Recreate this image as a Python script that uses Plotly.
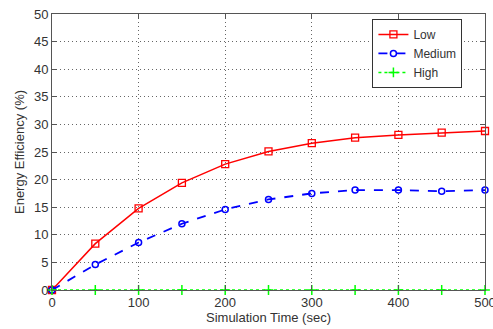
import plotly.graph_objects as go

time_sec = [0, 50, 100, 150, 200, 250, 300, 350, 400, 450, 500]
low = [0, 8.4, 14.8, 19.4, 22.8, 25.1, 26.6, 27.6, 28.1, 28.5, 28.8]
medium = [0, 4.6, 8.6, 12.0, 14.6, 16.4, 17.5, 18.1, 18.1, 17.9, 18.1]
high = [0, 0, 0, 0, 0, 0, 0, 0, 0, 0, 0]

x_ticks = [0, 100, 200, 300, 400, 500]
y_ticks = [0, 5, 10, 15, 20, 25, 30, 35, 40, 45, 50]

FONT = "Liberation Sans, Arial"

fig = go.Figure()
fig.add_trace(go.Scatter(x=time_sec, y=low, name="Low", mode="lines+markers", cliponaxis=False,
                         line=dict(color="#ff0000", width=1.5),
                         marker=dict(symbol="square-open", size=7, color="#ff0000", line=dict(width=1.3))))
fig.add_trace(go.Scatter(x=time_sec, y=medium, name="Medium", mode="lines+markers", cliponaxis=False,
                         line=dict(color="#0000ff", width=1.8, dash="dash"),
                         marker=dict(symbol="circle-open", size=6, color="#0000ff", line=dict(width=1.5))))
fig.add_trace(go.Scatter(x=time_sec, y=high, name="High", mode="lines+markers", cliponaxis=False,
                         line=dict(color="#00ff00", width=1.5, dash="dot"),
                         marker=dict(symbol="cross-thin-open", size=7, color="#00ff00", line=dict(width=1.5, color="#00ff00"))))

axis_common = dict(showline=True, mirror="ticks", linecolor="#555555", linewidth=1,
                   ticks="inside", ticklen=5, tickcolor="#555555",
                   showgrid=True, gridcolor="#666666", griddash="1px,3px", gridwidth=1,
                   zeroline=False, automargin=False, ticklabeloverflow="allow",
                   tickfont=dict(family=FONT, size=13, color="#333333"),
                   title_font=dict(family=FONT, size=13, color="#333333"))

fig.update_xaxes(range=[0, 500], tickvals=x_ticks, title_text="Simulation Time (sec)",
                 title_standoff=2, **axis_common)
fig.update_yaxes(range=[0, 50], tickvals=y_ticks, title_text="Energy Efficiency (%)",
                 title_standoff=6, **axis_common)

fig.update_layout(
    width=493, height=329,
    margin=dict(l=52, r=8, t=14, b=39),
    paper_bgcolor="white", plot_bgcolor="white",
    showlegend=True,
    legend=dict(x=0.74, y=0.982, xanchor="left", yanchor="top",
                bgcolor="white", bordercolor="#333333", borderwidth=1,
                font=dict(family=FONT, size=12, color="#333333"),
                tracegroupgap=0, itemwidth=30),
)

fig.write_html("out.html", config={"displayModeBar": False},
               post_script="document.body.style.margin='0px';")
